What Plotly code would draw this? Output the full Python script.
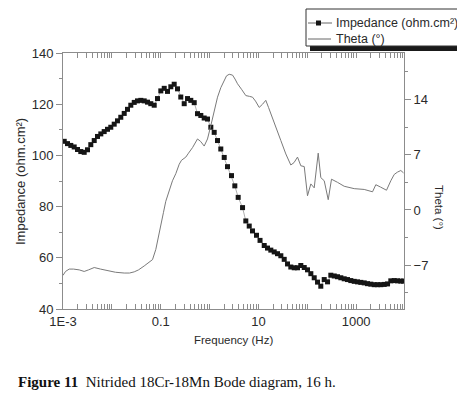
import plotly.graph_objects as go

# ---- data (frequency stored as log10(Hz)) ----
imp_logf = [-2.975, -2.908, -2.840, -2.771, -2.703, -2.636, -2.566, -2.498, -2.431, -2.361,
            -2.294, -2.226, -2.157, -2.089, -2.022, -1.952, -1.885, -1.817, -1.747, -1.680,
            -1.612, -1.542, -1.475, -1.407, -1.338, -1.270, -1.203, -1.133, -1.066, -0.998,
            -0.928, -0.861, -0.793, -0.724, -0.656, -0.589, -0.519, -0.451, -0.384, -0.314,
            -0.247, -0.179, -0.110, -0.042, 0.026, 0.095, 0.163, 0.230, 0.300, 0.367,
            0.449, 0.517, 0.586, 0.675, 0.742, 0.812, 0.879, 0.961, 1.033, 1.119,
            1.186, 1.254, 1.323, 1.391, 1.459, 1.528, 1.596, 1.663, 1.733, 1.800,
            1.868, 1.938, 2.005, 2.073, 2.142, 2.210, 2.277, 2.347, 2.415, 2.482,
            2.552, 2.619, 2.687, 2.756, 2.824, 2.891, 2.961, 3.029, 3.096, 3.166,
            3.233, 3.301, 3.371, 3.438, 3.506, 3.575, 3.643, 3.710, 3.780, 3.847,
            3.915, 3.970]
imp_z = [105.5, 104.6, 103.9, 103.3, 102.3, 101.5, 101.2, 102.2, 104.2, 105.8,
         107.4, 108.4, 109.3, 110.2, 111.0, 112.2, 113.5, 114.9, 116.4, 118.0,
         119.6, 120.7, 121.3, 121.5, 121.3, 120.8, 120.2, 119.6, 122.2, 125.2,
         126.2, 125.0, 126.8, 127.8, 126.0, 122.8, 120.2, 122.2, 121.5, 120.6,
         116.3, 115.6, 114.6, 114.2, 111.0, 109.0, 105.8, 102.5, 99.2, 95.6,
         92.1, 88.1, 83.6, 79.6, 74.4, 72.4, 70.5, 68.8, 66.8, 64.8,
         63.8, 63.0, 62.3, 61.6, 60.8, 59.4, 57.6, 56.4, 56.1, 56.1,
         57.0, 56.2, 55.3, 53.8, 52.2, 50.5, 48.9, 51.5, 50.6, 53.2,
         52.9, 52.6, 52.2, 51.8, 51.5, 51.1, 50.8, 50.6, 50.4, 50.2,
         49.9, 49.7, 49.5, 49.5, 49.5, 49.6, 49.8, 51.0, 51.1, 51.0,
         50.9, 50.9]

theta_logf = [-3.000, -2.949, -2.873, -2.785, -2.668, -2.566, -2.478, -2.361, -2.232, -2.089,
              -1.925, -1.747, -1.639, -1.542, -1.454, -1.338, -1.250, -1.168, -1.100, -1.066,
              -0.998, -0.943, -0.896, -0.826, -0.759, -0.691, -0.621, -0.574, -0.486, -0.431,
              -0.349, -0.247, -0.185, -0.110, -0.042, 0.026, 0.095, 0.163, 0.230, 0.300,
              0.347, 0.402, 0.470, 0.521, 0.572, 0.654, 0.742, 0.818, 0.879, 0.941,
              1.016, 1.084, 1.151, 1.207, 1.289, 1.371, 1.459, 1.561, 1.663, 1.729,
              1.800, 1.868, 1.938, 2.005, 2.073, 2.142, 2.224, 2.277, 2.347, 2.429,
              2.496, 2.619, 2.756, 2.961, 3.166, 3.336, 3.403, 3.500, 3.622, 3.710,
              3.780, 3.847, 3.915, 3.970]
theta_deg = [-8.3, -7.8, -7.5, -7.5, -7.6, -7.8, -7.6, -7.3, -7.5, -7.7,
             -7.9, -8.0, -8.0, -7.85, -7.6, -7.1, -6.7, -6.3, -5.0, -3.9,
             -1.8, -0.3, 1.1, 2.4, 3.7, 4.6, 5.8, 6.3, 6.7, 7.2,
             7.9, 9.0, 8.7, 8.1, 9.0, 10.7, 12.5, 14.3, 15.5, 16.4,
             17.0, 17.2, 17.1, 16.6, 16.0, 15.3, 14.5, 14.4, 14.3, 13.8,
             13.0, 13.4, 13.9, 13.0, 11.7, 10.2, 8.8, 7.1, 5.7, 6.0,
             6.7, 5.6, 5.5, 1.8, 3.3, 2.8, 7.2, 4.1, 3.7, 1.3,
             3.9, 3.5, 3.0, 2.7, 2.6, 2.3, 3.2, 2.9, 2.5, 3.7,
             4.5, 4.8, 5.0, 4.7]

x_tick_vals = [1e-3, 1e-2, 1e-1, 1e0, 1e1, 1e2, 1e3]
x_tick_text = ["1E-3", "", "0.1", "", "10", "", "1000"]
left_ticks = [40, 60, 80, 100, 120, 140]
right_ticks = [-7, 0, 7, 14]

imp_f = [10 ** v for v in imp_logf]
theta_f = [10 ** v for v in theta_logf]

AX = "#8c8c8c"
TXT = "#2a2a2a"
FONT = "Liberation Sans, Arial, sans-serif"

# plot-area geometry in pixels
W, H = 465, 397
L, R, T, B = 55, 396, 45, 301


def px(x):
    return (x - L) / (R - L)


def py(y):
    return (B - y) / (B - T)


minor_x = [m * 10 ** e for e in range(-3, 4) for m in range(2, 10)]

fig = go.Figure()
fig.add_trace(go.Scatter(
    x=theta_f, y=theta_deg, yaxis="y2", mode="lines", name="Theta (°)",
    line=dict(color="#7a7a7a", width=1), showlegend=False))
fig.add_trace(go.Scatter(
    x=imp_f, y=imp_z, mode="lines+markers", name="Impedance (ohm.cm²)",
    line=dict(color="#9a9a9a", width=0.8),
    marker=dict(symbol="square", size=5, color="#151515"), showlegend=False))

shapes = []
annotations = []

# legend (drawn manually, with its drop shadow, like the reference)
shapes.append(dict(type="rect", xref="paper", yref="paper",
                   x0=px(302), x1=px(465), y0=py(43), y1=py(4),
                   fillcolor="#1a1a1a", line=dict(width=0), layer="above"))
shapes.append(dict(type="rect", xref="paper", yref="paper",
                   x0=px(298), x1=px(458), y0=py(38), y1=py(1),
                   fillcolor="white", line=dict(color="#333", width=1), layer="above"))
shapes.append(dict(type="line", xref="paper", yref="paper",
                   x0=px(300), x1=px(324), y0=py(15), y1=py(15),
                   line=dict(color="#666", width=1), layer="above"))
shapes.append(dict(type="rect", xref="paper", yref="paper",
                   x0=px(308), x1=px(313), y0=py(17.5), y1=py(12.5),
                   fillcolor="#151515", line=dict(width=0), layer="above"))
shapes.append(dict(type="line", xref="paper", yref="paper",
                   x0=px(300), x1=px(323), y0=py(31), y1=py(31),
                   line=dict(color="#666", width=1), layer="above"))
annotations.append(dict(text="Impedance (ohm.cm²)", xref="paper", yref="paper",
                        x=px(326), y=py(15), xanchor="left", yanchor="middle",
                        showarrow=False, font=dict(family=FONT, size=12.5, color=TXT)))
annotations.append(dict(text="Theta (°)", xref="paper", yref="paper",
                        x=px(326), y=py(31), xanchor="left", yanchor="middle",
                        showarrow=False, font=dict(family=FONT, size=12.5, color=TXT)))

# axis titles
annotations.append(dict(text="Impedance (ohm.cm²)", xref="paper", yref="paper",
                        x=px(12), y=py(174), textangle=-90, xanchor="center", yanchor="middle",
                        showarrow=False, font=dict(family=FONT, size=13, color=TXT)))
annotations.append(dict(text="Frequency (Hz)", xref="paper", yref="paper",
                        x=px(225), y=py(332), xanchor="center", yanchor="middle",
                        showarrow=False, font=dict(family=FONT, size=11.5, color=TXT)))
annotations.append(dict(text="Theta (°)", xref="paper", yref="paper",
                        x=px(431), y=py(200), textangle=90, xanchor="center", yanchor="middle",
                        showarrow=False, font=dict(family=FONT, size=11.5, color=TXT)))
# caption
annotations.append(dict(text="<b>Figure 11</b>  Nitrided 18Cr-18Mn Bode diagram, 16 h.",
                        xref="paper", yref="paper", x=px(8), y=py(374),
                        xanchor="left", yanchor="middle", showarrow=False,
                        font=dict(family="Liberation Serif, serif", size=15, color="#111")))

fig.update_layout(
    width=W, height=H,
    margin=dict(l=L, r=W - R, t=T, b=H - B, pad=0),
    paper_bgcolor="white", plot_bgcolor="white",
    showlegend=False,
    font=dict(family=FONT, size=13, color=TXT),
    shapes=shapes, annotations=annotations,
    xaxis=dict(type="log", range=[-3, 3.98], showgrid=False, zeroline=False,
               showline=True, linecolor=AX, linewidth=1, mirror="allticks",
               tickmode="array", tickvals=x_tick_vals, ticktext=x_tick_text,
               ticks="inside", ticklen=5, tickcolor=AX,
               tickfont=dict(family=FONT, size=13, color=TXT),
               minor=dict(tickmode="array", tickvals=minor_x, ticks="inside",
                          ticklen=3, tickcolor=AX, showgrid=False)),
    yaxis=dict(range=[40, 140], showgrid=False, zeroline=False,
               showline=True, linecolor=AX, linewidth=1,
               tickmode="array", tickvals=left_ticks,
               ticks="outside", ticklen=6, tickcolor=AX,
               tickfont=dict(family=FONT, size=13, color=TXT),
               minor=dict(dtick=10, tick0=0, ticks="outside", ticklen=3,
                          tickcolor=AX, showgrid=False)),
    yaxis2=dict(range=[-12.56, 19.9], overlaying="y", side="right",
                showgrid=False, zeroline=False,
                showline=True, linecolor=AX, linewidth=1,
                tickmode="array", tickvals=right_ticks,
                ticks="outside", ticklen=6, tickcolor=AX,
                tickfont=dict(family=FONT, size=13, color=TXT),
                minor=dict(dtick=3.5, tick0=0, ticks="outside", ticklen=3,
                           tickcolor=AX, showgrid=False)),
)

fig.write_html("out.html")
